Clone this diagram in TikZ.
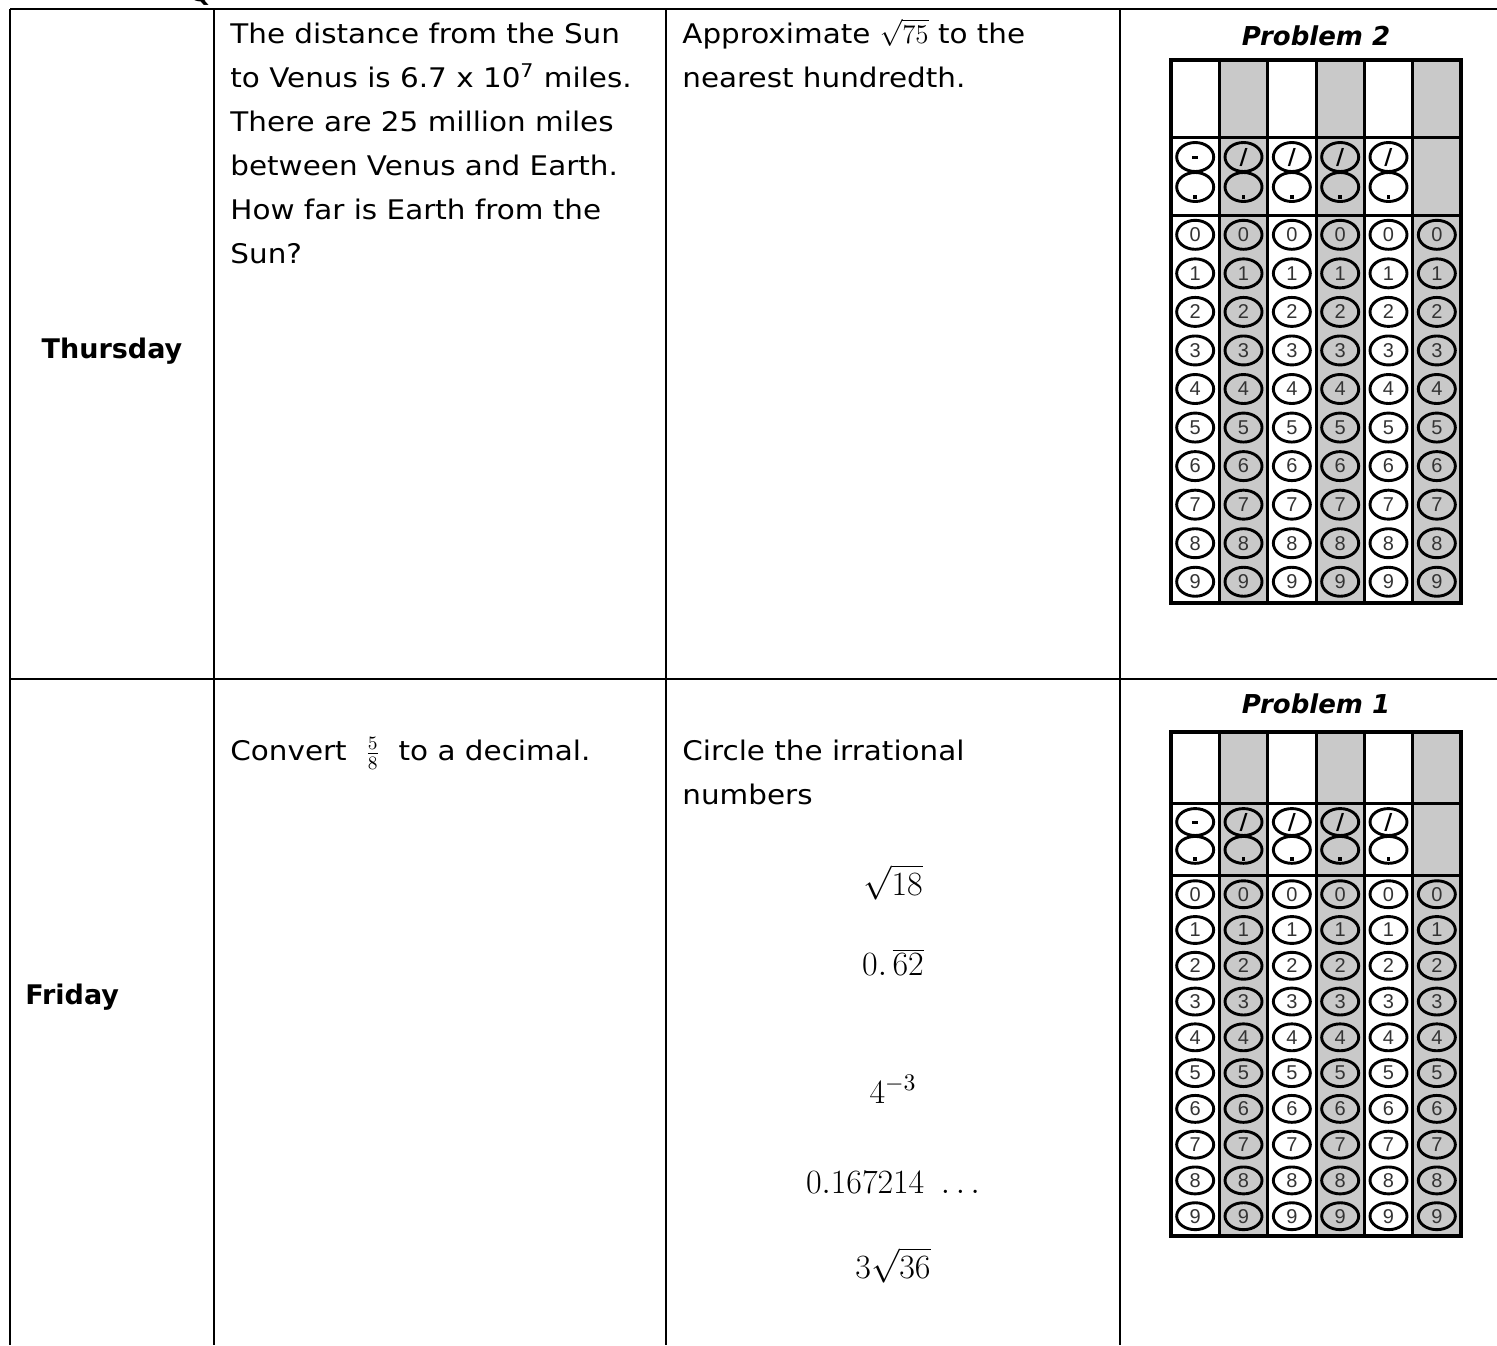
\RequirePackage{fix-cm}
\documentclass[tikz,border=0pt]{standalone}
\usepackage{fontspec}
\setmainfont{DejaVu Sans}
\newfontfamily\bodyfont{DejaVu Sans}[FakeStretch=1.09]
\newfontfamily\bubblefont{Liberation Sans}

% one gridded answer sheet: #1 name, #2 top, #3 yscale
\newcommand{\answergrid}[3]{%
\begin{scope}[shift={(1171,#2)}, yscale=#3]
  \foreach \i in {1,3,5}
    \fill[gridgrey] ({\i*48.33},0) rectangle ({(\i+1)*48.33},543);
  \foreach \i in {1,...,5}
    \draw[gridline] ({\i*48.33},0) -- ({\i*48.33},543);
  \draw[gridline] (0,77) -- (290,77) (0,155) -- (290,155);
  \draw[gridframe] (0,0) rectangle (290,543);
  %sign and point row
  \foreach \i in {0,...,4} {
    \draw[bubble] ({24.17+\i*48.33},97) ellipse [x radius=18.5, y radius=14.5];
    \draw[bubble] ({24.17+\i*48.33},127) ellipse [x radius=18.5, y radius=14.5];
    \node[inner sep=0pt] (#1dot\i) at ({24.17+\i*48.33},137) {\rule{1.7pt}{1.7pt}};
  }
  \node[inner sep=0pt] (#1minus) at (24.17,97) {\rule{3pt}{1.5pt}};
  \foreach \i in {1,...,4}
    \node[sign] (#1slash\i) at ({24.17+\i*48.33},97) {/};
  %digit rows
  \foreach \k in {0,...,9}
    \foreach \i in {0,...,5} {
      \draw[bubble] ({24.17+\i*48.33},{174.8+38.55*\k}) ellipse [x radius=18.5, y radius=14.5];
      \node[digit] (#1d\k\i) at ({24.17+\i*48.33},{174.8+38.55*\k}) {\k};
    }
\end{scope}}

\begin{document}
\begin{tikzpicture}[x=0.5pt,y=-0.5pt]

\tikzset{rule/.style = {line width=1.35pt}}
\tikzset{body/.style = {anchor=base west, inner sep=0pt, font=\bodyfont\fontsize{13.5}{16}\selectfont}}
\tikzset{day/.style = {inner sep=0pt, font=\bfseries\fontsize{13.5}{16}\selectfont}}
\tikzset{mathitem/.style = {anchor=base, inner sep=0pt, font=\fontsize{17}{20}\selectfont}}
\tikzset{title/.style = {anchor=base, inner sep=0pt, font=\bfseries\itshape\fontsize{13}{16}\selectfont}}
\tikzset{gridgrey/.style = {fill=black!21}}
\tikzset{gridline/.style = {line width=1.5pt}}
\tikzset{gridframe/.style = {line width=2pt}}
\tikzset{bubble/.style = {line width=1.45pt}}
\tikzset{sign/.style = {inner sep=0pt, font=\bfseries\fontsize{11}{12}\selectfont}}
\tikzset{digit/.style = {inner sep=0pt, text=black!80, font=\bubblefont\fontsize{10}{12}\selectfont}}

\useasboundingbox (0,0) rectangle (1497,1345);

%table
\draw[rule] (10,9) -- (1497,9);
\draw[rule] (10,679) -- (1497,679);
\foreach \x in {10,214,666,1120}
  \draw[rule] (\x,9) -- (\x,1345);
\node[anchor=base east, inner sep=0pt, font=\bfseries\fontsize{13.5}{16}\selectfont] (qtail) at (212,1) {Q};

%thursday
\node[day, anchor=base] (thu) at (112,358) {Thursday};
\foreach \txt [count=\n] in {{The distance from the Sun},
    {to Venus is 6.7 x 10\textsuperscript{7} miles.},
    {There are 25 million miles},
    {between Venus and Earth.},
    {How far is Earth from the},
    {Sun?}}
  \node[body] (thu-a\n) at (230,{43+44*(\n-1)}) {\txt};
\node[body] (thu-b1) at (682,43) {Approximate $\sqrt{75}$ to the};
\node[body] (thu-b2) at (682,87) {nearest hundredth.};
\node[title] (p2) at (1316,45) {Problem 2};
\answergrid{pa}{60}{1}

%friday
\node[day, anchor=base west] (fri) at (25,1004) {Friday};
\node[body] (fri-a1) at (230,760) {Convert \ $\frac{5}{8}$ \ to a decimal.};
\node[body] (fri-b1) at (682,760) {Circle the irrational};
\node[body] (fri-b2) at (682,804) {numbers};
\node[mathitem] (m1) at (893,895) {$\sqrt{18}$};
\node[mathitem] (m2) at (893,975) {$0.\,\overline{62}$};
\node[mathitem] (m3) at (893,1103) {$4^{-3}$};
\node[mathitem] (m4) at (893,1193) {$0.167214\ \ldots$};
\node[mathitem] (m5) at (893,1278) {$3\sqrt{36}$};
\node[title] (p1) at (1316,713) {Problem 1};
\answergrid{pb}{732}{0.928}

\end{tikzpicture}
\end{document}
